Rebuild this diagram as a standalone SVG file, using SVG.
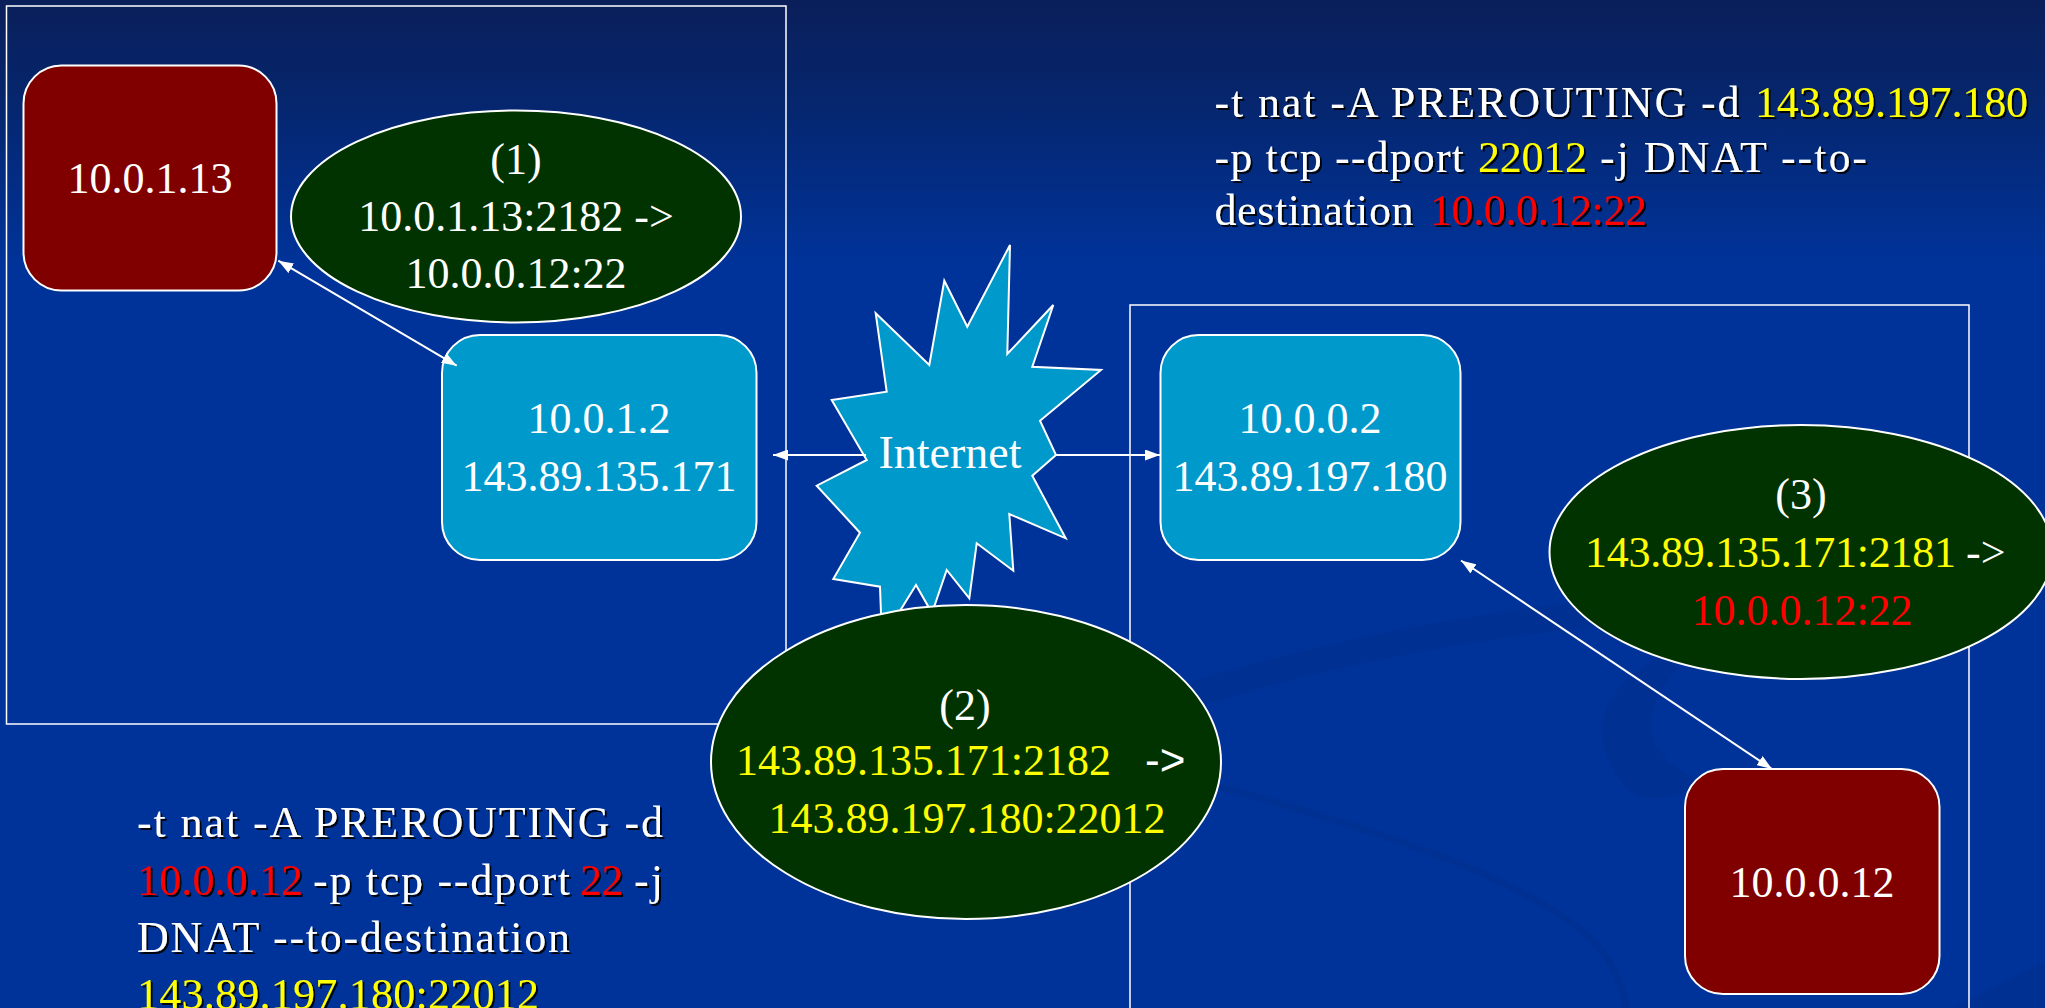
<svg xmlns="http://www.w3.org/2000/svg" width="2045" height="1008" viewBox="0 0 2045 1008">
  <defs>
    <linearGradient id="bg" gradientUnits="userSpaceOnUse" x1="0" y1="0" x2="0" y2="1008">
      <stop offset="0" stop-color="#0a1f5a"/>
      <stop offset="0.09" stop-color="#06256b"/>
      <stop offset="0.26" stop-color="#003399"/>
      <stop offset="1" stop-color="#003399"/>
    </linearGradient>
    <marker id="arrow" viewBox="0 0 15 11" refX="15" refY="5.5" markerWidth="15" markerHeight="11" markerUnits="userSpaceOnUse" orient="auto-start-reverse">
      <path d="M0,0 L15,5.5 L0,11 z" fill="#ffffff"/>
    </marker>
    <filter id="shadow" x="-5%" y="-20%" width="110%" height="140%">
      <feDropShadow dx="2" dy="2" stdDeviation="0.4" flood-color="#000000" flood-opacity="0.9"/>
    </filter>
    <style>
      .frame { fill: none; stroke: #ffffff; stroke-width: 1.5; }
      .host { fill: #800000; stroke: #ffffff; stroke-width: 2; }
      .router { fill: #0099cc; stroke: #ffffff; stroke-width: 2; }
      .packet { fill: #003300; stroke: #ffffff; stroke-width: 2; }
      .link { fill: none; stroke: #ffffff; stroke-width: 2; }
      text { font-family: "Liberation Serif", "Times New Roman", serif; font-size: 44px; }
      .c { text-anchor: middle; }
      .w { fill: #ffffff; }
      .y { fill: #ffff00; }
      .r { fill: #ff0000; }
      .cmd { filter: url(#shadow); }
      .swoosh { fill: #002d8c; opacity: 0.55; }
    </style>
  </defs>

  <!-- slide background -->
  <rect x="0" y="0" width="2045" height="1008" fill="url(#bg)"/>
  <g id="backdrop">
    <path class="swoosh" d="M1130,702 C1300,642 1500,602 1750,587 L2045,572 L2045,600 L1750,614 C1500,628 1300,668 1130,730 Z"/>
    <path class="swoosh" d="M1662,655 C1600,690 1584,732 1624,786 C1648,812 1690,792 1702,782 C1652,760 1630,722 1678,668 Z"/>
    <path d="M1180,776 C1350,822 1560,882 1608,960 C1620,980 1625,995 1626,1008" fill="none" stroke="#002d8c" stroke-width="7" opacity="0.55"/>
    <path class="swoosh" d="M1955,1008 C1995,986 2025,972 2045,962 L2045,1008 Z"/>
  </g>

  <!-- network boundaries -->
  <g id="site-a">
    <rect class="frame" x="6.5" y="6" width="779.5" height="718"/>
  </g>
  <g id="site-b">
    <rect class="frame" x="1130" y="305" width="839" height="720"/>
  </g>

  <!-- hosts and gateways -->
  <g id="host-10-0-1-13">
    <rect class="host" x="23.5" y="65.5" width="253" height="225" rx="38" ry="38"/>
    <text class="c w" x="150" y="193">10.0.1.13</text>
  </g>
  <g id="gateway-a">
    <rect class="router" x="442" y="335" width="314.5" height="225" rx="38" ry="38"/>
    <text class="c w" x="599" y="433">10.0.1.2</text>
    <text class="c w" x="599" y="491">143.89.135.171</text>
  </g>
  <g id="gateway-b">
    <rect class="router" x="1160.5" y="335" width="300" height="225" rx="38" ry="38"/>
    <text class="c w" x="1310" y="433">10.0.0.2</text>
    <text class="c w" x="1310" y="491">143.89.197.180</text>
  </g>
  <g id="host-10-0-0-12">
    <rect class="host" x="1685" y="769" width="254.5" height="225" rx="38" ry="38"/>
    <text class="c w" x="1812" y="897">10.0.0.12</text>
  </g>

  <g id="internet">
    <polygon class="router" points="1010,245 1007.3,354 1053.3,305 1032.3,366.7 1101,370 1040,420.7 1056,455 1032.3,475.7 1065.7,538.3 1009.3,514 1013.3,570.7 976.7,543.3 969.3,598.3 946.7,570 932,613 916,585 882,640 880,586.7 833.3,579 860,532.7 816.7,485.7 866.7,460 831.7,400 886.7,391.7 875.7,313.3 929.3,365 944.3,280.7 967.3,326.7"/>
    <text class="c w" x="950" y="468" style="font-size:46px">Internet</text>
  </g>

  <!-- packet header bubbles -->
  <g id="step-1">
    <ellipse class="packet" cx="516" cy="216.5" rx="225" ry="106"/>
    <text class="c w" x="516" y="174">(1)</text>
    <text class="c w" x="516" y="231">10.0.1.13:2182 -&gt;</text>
    <text class="c w" x="516" y="288">10.0.0.12:22</text>
  </g>
  <g id="step-2">
    <ellipse class="packet" cx="966" cy="762" rx="255" ry="157"/>
    <text class="c w" x="965" y="720">(2)</text>
    <text class="y" x="736" y="775" textLength="375" lengthAdjust="spacing">143.89.135.171:2182</text>
    <text class="w" x="1145" y="775" style="font-family:'Liberation Sans','Arial',sans-serif;font-size:44px">-&gt;</text>
    <text class="c y" x="967" y="833">143.89.197.180:22012</text>
  </g>
  <g id="step-3">
    <ellipse class="packet" cx="1801" cy="552" rx="251.5" ry="127"/>
    <text class="c w" x="1801" y="509">(3)</text>
    <text class="y" x="1585" y="567" textLength="371" lengthAdjust="spacing">143.89.135.171:2181</text>
    <text class="w" x="1966" y="567">-&gt;</text>
    <text class="c r" x="1802" y="625">10.0.0.12:22</text>
  </g>

  <!-- links -->
  <g id="connectors">
    <line class="link" x1="456.7" y1="365.7" x2="278.3" y2="260.7" marker-start="url(#arrow)" marker-end="url(#arrow)"/>
    <line class="link" x1="1461" y1="560.5" x2="1772" y2="769" marker-start="url(#arrow)" marker-end="url(#arrow)"/>
    <line class="link" x1="866" y1="455" x2="773" y2="455" marker-end="url(#arrow)"/>
    <line class="link" x1="1056" y1="455" x2="1160" y2="455" marker-end="url(#arrow)"/>
  </g>

  <!-- iptables rules -->
  <g id="rule-gateway-b" class="cmd">
    <text class="w" x="1214.5" y="117" textLength="525" lengthAdjust="spacing">-t nat -A PREROUTING -d</text>
    <text class="y" x="1755" y="117" textLength="273" lengthAdjust="spacing">143.89.197.180</text>
    <text class="w" x="1214.5" y="172" textLength="249.5" lengthAdjust="spacing">-p tcp --dport</text>
    <text class="y" x="1478" y="172" textLength="109" lengthAdjust="spacing">22012</text>
    <text class="w" x="1600" y="172" textLength="267" lengthAdjust="spacing">-j DNAT --to-</text>
    <text class="w" x="1214.5" y="225" textLength="199" lengthAdjust="spacing">destination</text>
    <text class="r" x="1430" y="225" textLength="217" lengthAdjust="spacing">10.0.0.12:22</text>
  </g>
  <g id="rule-gateway-a" class="cmd">
    <text class="w" x="137" y="837" textLength="526" lengthAdjust="spacing">-t nat -A PREROUTING -d</text>
    <text class="r" x="137" y="895" textLength="166" lengthAdjust="spacing">10.0.0.12</text>
    <text class="w" x="313" y="895" textLength="257" lengthAdjust="spacing">-p tcp --dport</text>
    <text class="r" x="580" y="895" textLength="43.5" lengthAdjust="spacing">22</text>
    <text class="w" x="634" y="895" textLength="29" lengthAdjust="spacing">-j</text>
    <text class="w" x="137" y="952" textLength="433" lengthAdjust="spacing">DNAT --to-destination</text>
    <text class="y" x="137" y="1009" textLength="402" lengthAdjust="spacing">143.89.197.180:22012</text>
  </g>
</svg>
